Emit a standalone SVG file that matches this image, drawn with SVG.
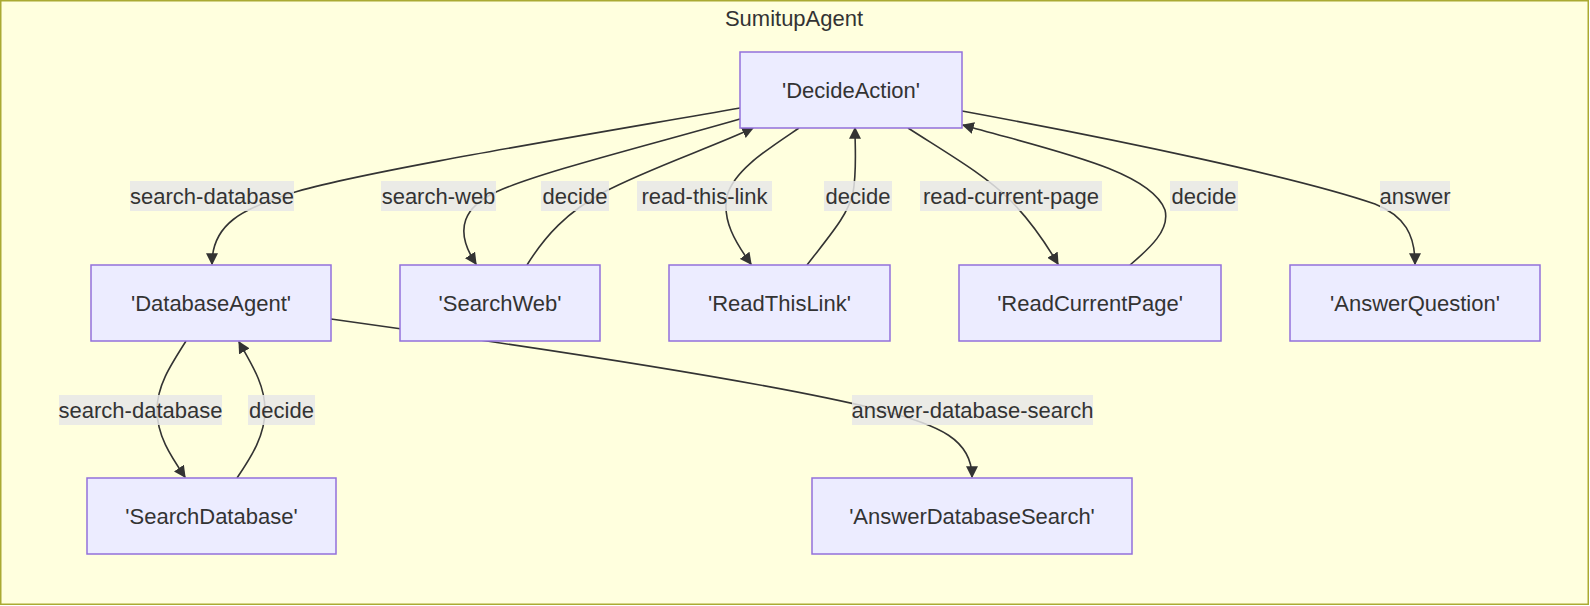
<svg xmlns="http://www.w3.org/2000/svg" width="1590" height="606" viewBox="0 0 1590 606">
<style>
.cluster{fill:#ffffde;stroke:#aaaa33;stroke-width:1.5}
.node rect{fill:#ECECFF;stroke:#9370DB;stroke-width:1.5}
text{font-family:"Liberation Sans",Arial,sans-serif;font-size:22px;fill:#333333;text-anchor:middle}
.edge{fill:none;stroke:#333333;stroke-width:1.6}
.lbl rect{fill:#e8e8e8;fill-opacity:0.85}
</style>
<defs>
<marker id="arr" viewBox="0 0 10 10" refX="9" refY="5" markerWidth="12" markerHeight="12" markerUnits="userSpaceOnUse" orient="auto">
<path d="M0,0 L10,5 L0,10 z" fill="#333333"/>
</marker>
</defs>
<rect class="cluster" x="0.75" y="0.75" width="1587.5" height="603.5"/>
<text x="794" y="26">SumitupAgent</text>
<g id="connectors">
<path class="edge" marker-end="url(#arr)" d="M740,108 C580,136 360,172 292,193 C242,209 212,224 212,264"/>
<path class="edge" marker-end="url(#arr)" d="M740,119 C650,145 540,172 496,192 C466,206 452,228 476,264"/>
<path class="edge" marker-end="url(#arr)" d="M527,265 C545,236 567,212 604,192 C650,168 710,148 753,128"/>
<path class="edge" marker-end="url(#arr)" d="M799,128 C768,149 734,170 727,196 C722,220 735,242 751,264"/>
<path class="edge" marker-end="url(#arr)" d="M807,265 C830,235 848,215 853,193 C857,170 855,150 855,128"/>
<path class="edge" marker-end="url(#arr)" d="M908,128 C950,155 985,175 1010,200 C1030,220 1045,242 1058,264"/>
<path class="edge" marker-end="url(#arr)" d="M1130,265 C1150,248 1170,230 1165,210 C1150,170 1050,150 963,125"/>
<path class="edge" marker-end="url(#arr)" d="M962,111 C1120,140 1300,178 1375,204 C1405,216 1415,235 1415,264"/>
<path class="edge" marker-end="url(#arr)" d="M186,341 C170,366 157,386 157,410 C157,435 170,455 185,477"/>
<path class="edge" marker-end="url(#arr)" d="M237,478 C252,456 265,435 265,410 C265,385 252,365 239,342"/>
<path class="edge" marker-end="url(#arr)" d="M331,319 L480,340 C650,365 800,390 880,410 C940,425 972,440 972,477"/>
<g class="lbl">
<rect x="130" y="181" width="164" height="30"/><text x="212" y="204">search-database</text>
<rect x="381" y="181" width="115" height="30"/><text x="438.5" y="204">search-web</text>
<rect x="541" y="181" width="68" height="30"/><text x="575" y="204">decide</text>
<rect x="637" y="181" width="135" height="30"/><text x="704.5" y="204">read-this-link</text>
<rect x="824" y="181" width="68" height="30"/><text x="858" y="204">decide</text>
<rect x="920" y="181" width="182" height="30"/><text x="1011" y="204">read-current-page</text>
<rect x="1170" y="181" width="68" height="30"/><text x="1204" y="204">decide</text>
<rect x="1380" y="181" width="70" height="30"/><text x="1415" y="204">answer</text>
<rect x="59" y="395" width="163" height="30"/><text x="140.5" y="418">search-database</text>
<rect x="248" y="395" width="67" height="30"/><text x="281.5" y="418">decide</text>
<rect x="852" y="395" width="241" height="30"/><text x="972.5" y="418">answer-database-search</text>
</g>
</g>
<g id="DecideAction" class="node"><rect x="740" y="52" width="222" height="76"/><text x="851" y="98">'DecideAction'</text></g>
<g id="DatabaseAgent" class="node"><rect x="91" y="265" width="240" height="76"/><text x="211" y="311">'DatabaseAgent'</text></g>
<g id="SearchWeb" class="node"><rect x="400" y="265" width="200" height="76"/><text x="500" y="311">'SearchWeb'</text></g>
<g id="ReadThisLink" class="node"><rect x="669" y="265" width="221" height="76"/><text x="779.5" y="311">'ReadThisLink'</text></g>
<g id="ReadCurrentPage" class="node"><rect x="959" y="265" width="262" height="76"/><text x="1090" y="311">'ReadCurrentPage'</text></g>
<g id="AnswerQuestion" class="node"><rect x="1290" y="265" width="250" height="76"/><text x="1415" y="311">'AnswerQuestion'</text></g>
<g id="SearchDatabase" class="node"><rect x="87" y="478" width="249" height="76"/><text x="211.5" y="524">'SearchDatabase'</text></g>
<g id="AnswerDatabaseSearch" class="node"><rect x="812" y="478" width="320" height="76"/><text x="972" y="524">'AnswerDatabaseSearch'</text></g>
</svg>
